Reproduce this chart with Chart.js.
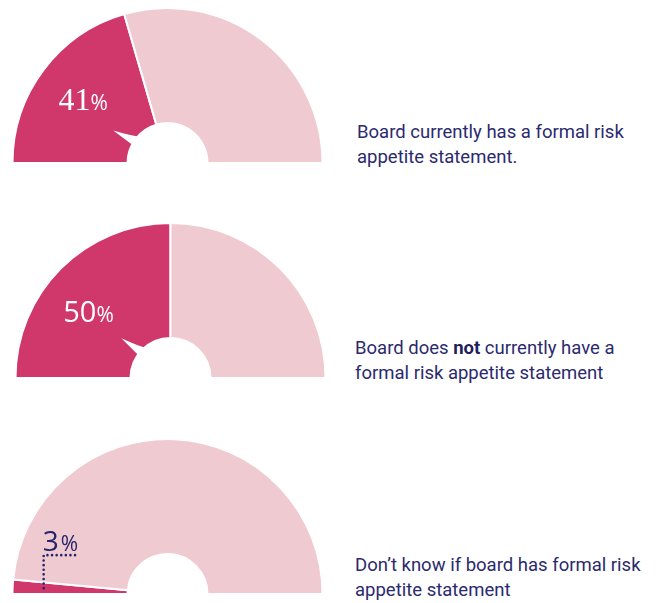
<!DOCTYPE html>
<html>
<head>
<meta charset="utf-8">
<script src="https://cdn.jsdelivr.net/npm/chart.js@4/dist/chart.umd.min.js"></script>
<style>
  body { margin: 0; background: #fff; width: 658px; height: 603px; position: relative; overflow: hidden; }
  canvas.gauge { position: absolute; }
  .caption {
    position: absolute;
    font-family: Roboto, sans-serif;
    font-size: 18.5px;
    line-height: 25px;
    color: #2b2a6e;
    white-space: nowrap;
  }
  .caption b { font-weight: 700; color: #1f1e5e; }
</style>
</head>
<body>
<canvas class="gauge" id="gauge-0" width="313" height="157" style="left:11px;top:7px"></canvas>
<canvas class="gauge" id="gauge-1" width="313" height="157" style="left:14px;top:222px"></canvas>
<canvas class="gauge" id="gauge-2" width="313" height="157" style="left:11px;top:438px"></canvas>
<div class="caption" id="caption-0" style="left:357px;top:120px"></div>
<div class="caption" id="caption-1" style="left:355px;top:336px"></div>
<div class="caption" id="caption-2" style="left:355px;top:553px"></div>
<script>
// Share of boards (%) for each answer
const answers = ['Has statement', 'No statement', "Don't know"];
const shares = [41, 50, 3];
const captions = [
  'Board currently has a formal risk<br>appetite statement.',
  'Board does <b>not</b> currently have a<br>formal risk appetite statement',
  'Don’t know if board has formal risk<br>appetite statement'
];

const MAGENTA = '#d0376b';
const PINK = '#efcad0';
const NAVY = '#26256b';

const deg = (d) => d * Math.PI / 180;

// Draws the percentage label, plus the speech-bubble tail or dotted leader.
// Arc angles run from -PI (left) through -PI/2 (top) to 0 (right).
const gaugeMarks = {
  id: 'gaugeMarks',
  afterDatasetsDraw(chart, args, opts) {
    const arc = chart.getDatasetMeta(0).data[0];
    const { x, y, startAngle, endAngle, innerRadius, outerRadius } =
      arc.getProps(['x', 'y', 'startAngle', 'endAngle', 'innerRadius', 'outerRadius'], true);
    const value = chart.data.datasets[0].data[0];
    const ctx = chart.ctx;
    const mid = (startAngle + endAngle) / 2;
    const pt = (a, r) => [x + r * Math.cos(a), y + r * Math.sin(a)];

    ctx.save();
    if (opts.inside) {
      // little white tail coming off the hole
      const t = mid - deg(6);
      const [b1x, b1y] = pt(t - deg(4), innerRadius - 2);
      const [tx, ty] = pt(t, innerRadius * 1.58);
      const [cx, cy] = pt(t + deg(6), innerRadius * 1.12);
      const [b2x, b2y] = pt(t + deg(13), innerRadius - 2);
      ctx.fillStyle = '#fff';
      ctx.beginPath();
      ctx.moveTo(b1x, b1y);
      ctx.lineTo(tx, ty);
      ctx.quadraticCurveTo(cx, cy, b2x, b2y);
      ctx.closePath();
      ctx.fill();

      const a = Math.min(mid, -Math.PI + deg(39));
      const [lx, ly] = pt(a, (innerRadius + outerRadius) / 2 + 8);
      drawPercent(ctx, value, lx, ly + 10, 'center', '#fff', opts.numFont, 0);
    } else {
      // dotted leader from the thin slice up to the label
      const [ax, ay] = pt(mid, outerRadius * 0.8);
      const hy = ay - 33;
      ctx.strokeStyle = NAVY;
      ctx.lineWidth = 2.6;
      ctx.lineCap = 'round';
      ctx.setLineDash([0, 4.6]);
      ctx.beginPath();
      ctx.moveTo(ax, ay);
      ctx.lineTo(ax, hy);
      ctx.lineTo(ax + 33, hy);
      ctx.stroke();
      ctx.setLineDash([]);
      drawPercent(ctx, value, ax - 1, hy - 4, 'left', NAVY, opts.numFont, 2);
    }
    ctx.restore();
  }
};

function drawPercent(ctx, value, x, baseline, align, color, numFont, gap) {
  const num = String(value);
  const pctFont = '21px "Open Sans"';
  ctx.font = numFont;
  const wNum = ctx.measureText(num).width;
  ctx.font = pctFont;
  const wPct = ctx.measureText('%').width;
  const left = align === 'center' ? x - (wNum + wPct + gap) / 2 : x;
  ctx.fillStyle = color;
  ctx.textAlign = 'left';
  ctx.textBaseline = 'alphabetic';
  ctx.font = numFont;
  ctx.fillText(num, left, baseline);
  ctx.font = pctFont;
  ctx.fillText('%', left + wNum + gap, baseline);
}

const numFonts = ['32px "Liberation Serif"', '29px "Open Sans"', '28px "Open Sans"'];

shares.forEach((share, i) => {
  document.getElementById('caption-' + i).innerHTML = captions[i];
  new Chart(document.getElementById('gauge-' + i), {
    type: 'doughnut',
    data: {
      labels: [answers[i], 'Other'],
      datasets: [{
        data: [share, 100 - share],
        backgroundColor: [MAGENTA, PINK],
        borderColor: '#fff',
        borderWidth: 2,
        hoverOffset: 0
      }]
    },
    options: {
      responsive: false,
      animation: false,
      rotation: -90,
      circumference: 180,
      cutout: '25.8%',
      layout: { padding: 0 },
      events: [],
      plugins: {
        legend: { display: false },
        tooltip: { enabled: false },
        gaugeMarks: { inside: share >= 10, numFont: numFonts[i] }
      }
    },
    plugins: [gaugeMarks]
  });
});
</script>
</body>
</html>
